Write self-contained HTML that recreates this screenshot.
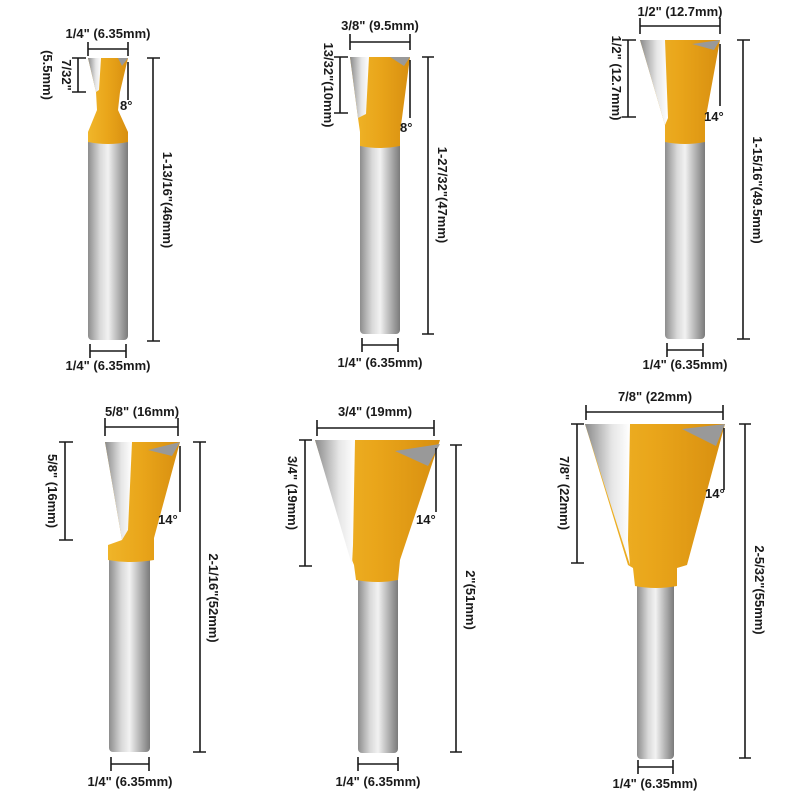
<!DOCTYPE html>
<html><head><style>
html,body{margin:0;padding:0;background:#fff;}
svg{display:block}
text{font-family:"Liberation Sans",sans-serif;font-size:13px;fill:#1a1a1a;font-weight:bold}
.d{stroke:#1a1a1a;stroke-width:1.6;fill:none}
</style></head><body>
<svg width="800" height="800" viewBox="0 0 800 800" xmlns="http://www.w3.org/2000/svg">
<defs>
<linearGradient id="sh" x1="0" x2="1" y1="0" y2="0">
<stop offset="0" stop-color="#8d8d8d"/><stop offset="0.3" stop-color="#d8d8d8"/><stop offset="0.5" stop-color="#f2f2f2"/><stop offset="0.75" stop-color="#b5b5b5"/><stop offset="1" stop-color="#7a7a7a"/>
</linearGradient>
<linearGradient id="y" x1="0" x2="1" y1="0" y2="0">
<stop offset="0" stop-color="#f0b62a"/><stop offset="0.5" stop-color="#e9a51a"/><stop offset="1" stop-color="#d88f10"/>
</linearGradient>
<linearGradient id="g" x1="0" x2="1" y1="0" y2="0">
<stop offset="0" stop-color="#8a8a8a"/><stop offset="0.6" stop-color="#e6e6e6"/><stop offset="1" stop-color="#ffffff"/>
</linearGradient>
</defs>

<!-- Bit 1 -->
<rect x="88" y="138" width="40" height="202" rx="4" fill="url(#sh)"/>
<path d="M88,58 L128,58 L120,92 L118,110 L128,132 L128,142 Q108,146 88,142 L88,132 L97,110 L96,92 Z" fill="url(#y)"/>
<path d="M88,58 L101,58 L99,90 L96,92 Z" fill="url(#g)"/>
<path d="M118,58 L128,58 L122,66 Z" fill="#999"/>
<path class="d" d="M88,42 V56 M128,42 V56 M88,49 H128"/>
<text x="108" y="38" text-anchor="middle">1/4" (6.35mm)</text>
<path class="d" d="M72,58 H86 M72,92 H86 M78,58 V92"/>
<text transform="translate(62,75) rotate(90)" text-anchor="middle">7/32"</text>
<text transform="translate(43,75) rotate(90)" text-anchor="middle">(5.5mm)</text>
<path class="d" d="M128,62 V100 M147,58 H160 M147,341 H160 M153,58 V341"/>
<text x="120" y="110">8°</text>
<text transform="translate(163,200) rotate(90)" text-anchor="middle">1-13/16"(46mm)</text>
<path class="d" d="M90,344 V358 M126,344 V358 M90,351 H126"/>
<text x="108" y="370" text-anchor="middle">1/4" (6.35mm)</text>

<!-- Bit 2 -->
<rect x="360" y="140" width="40" height="194" rx="4" fill="url(#sh)"/>
<path d="M350,57 L410,57 L402,118 L400,132 L400,146 Q380,150 360,146 L360,132 L358,118 Z" fill="url(#y)"/>
<path d="M350,57 L369,57 L366,114 L358,118 Z" fill="url(#g)"/>
<path d="M390,57 L410,57 L404,66 Z" fill="#999"/>
<path class="d" d="M350,34 V50 M410,34 V50 M350,42 H410"/>
<text x="380" y="30" text-anchor="middle">3/8" (9.5mm)</text>
<path class="d" d="M334,57 H348 M334,113 H348 M340,57 V113"/>
<text transform="translate(324,85) rotate(90)" text-anchor="middle">13/32"(10mm)</text>
<path class="d" d="M410,60 V118 M422,57 H434 M422,334 H434 M428,57 V334"/>
<text x="400" y="132">8°</text>
<text transform="translate(438,195) rotate(90)" text-anchor="middle">1-27/32"(47mm)</text>
<path class="d" d="M362,338 V352 M398,338 V352 M362,345 H398"/>
<text x="380" y="367" text-anchor="middle">1/4" (6.35mm)</text>

<!-- Bit 3 -->
<rect x="665" y="135" width="40" height="204" rx="4" fill="url(#sh)"/>
<path d="M640,40 L720,40 L705,122 L705,142 Q685,146 665,142 L665,125 Z" fill="url(#y)"/>
<path d="M640,40 L665,40 L668,118 L665,125 Z" fill="url(#g)"/>
<path d="M692,44 L720,40 L714,50 Z" fill="#999"/>
<path class="d" d="M640,18 V34 M720,18 V34 M640,26 H720"/>
<text x="680" y="16" text-anchor="middle">1/2" (12.7mm)</text>
<path class="d" d="M622,40 H636 M622,117 H636 M628,40 V117"/>
<text transform="translate(612,78) rotate(90)" text-anchor="middle">1/2" (12.7mm)</text>
<path class="d" d="M720,44 V106 M737,40 H750 M737,339 H750 M743,40 V339"/>
<text x="704" y="121">14°</text>
<text transform="translate(753,190) rotate(90)" text-anchor="middle">1-15/16"(49.5mm)</text>
<path class="d" d="M667,343 V357 M703,343 V357 M667,350 H703"/>
<text x="685" y="369" text-anchor="middle">1/4" (6.35mm)</text>

<!-- Bit 4 -->
<rect x="109" y="555" width="41" height="197" rx="4" fill="url(#sh)"/>
<path d="M105,442 L180,442 L154,538 L154,560 Q130,564 108,560 L108,545 L122,540 Z" fill="url(#y)"/>
<path d="M105,442 L132,442 L128,530 L122,540 Z" fill="url(#g)"/>
<path d="M148,450 L180,442 L172,456 Z" fill="#999"/>
<path class="d" d="M105,418 V436 M178,418 V436 M105,427 H178"/>
<text x="142" y="416" text-anchor="middle">5/8" (16mm)</text>
<path class="d" d="M59,442 H73 M59,540 H73 M65,442 V540"/>
<text transform="translate(48,491) rotate(90)" text-anchor="middle">5/8" (16mm)</text>
<path class="d" d="M180,446 V512 M193,442 H206 M193,752 H206 M200,442 V752"/>
<text x="158" y="524">14°</text>
<text transform="translate(209,598) rotate(90)" text-anchor="middle">2-1/16"(52mm)</text>
<path class="d" d="M111,757 V771 M149,757 V771 M111,764 H149"/>
<text x="130" y="786" text-anchor="middle">1/4" (6.35mm)</text>

<!-- Bit 5 -->
<rect x="358" y="575" width="40" height="178" rx="4" fill="url(#sh)"/>
<path d="M315,440 L440,440 L400,560 L398,580 Q378,584 356,580 L354,565 L352,560 Z" fill="url(#y)"/>
<path d="M315,440 L355,440 L353,545 L352,565 Z" fill="url(#g)"/>
<path d="M395,451 L440,444 L428,466 Z" fill="#999"/>
<path class="d" d="M317,420 V436 M434,420 V436 M317,428 H434"/>
<text x="375" y="416" text-anchor="middle">3/4" (19mm)</text>
<path class="d" d="M299,440 H312 M299,566 H312 M305,440 V566"/>
<text transform="translate(288,493) rotate(90)" text-anchor="middle">3/4" (19mm)</text>
<path class="d" d="M436,448 V512 M450,445 H462 M450,752 H462 M456,445 V752"/>
<text x="416" y="524">14°</text>
<text transform="translate(466,600) rotate(90)" text-anchor="middle">2"(51mm)</text>
<path class="d" d="M358,757 V771 M398,757 V771 M358,764 H398"/>
<text x="378" y="786" text-anchor="middle">1/4" (6.35mm)</text>

<!-- Bit 6 -->
<rect x="637" y="582" width="37" height="177" rx="4" fill="url(#sh)"/>
<path d="M585,424 L725,424 L687,565 L677,568 L677,586 Q656,590 635,586 L633,568 L628,565 Z" fill="url(#y)"/>
<path d="M585,424 L630,424 L628,540 L630,565 Z" fill="url(#g)"/>
<path d="M682,429 L725,424 L716,446 Z" fill="#999"/>
<path class="d" d="M586,405 V420 M723,405 V420 M586,412 H723"/>
<text x="655" y="401" text-anchor="middle">7/8" (22mm)</text>
<path class="d" d="M571,424 H584 M571,563 H584 M577,424 V563"/>
<text transform="translate(560,493) rotate(90)" text-anchor="middle">7/8" (22mm)</text>
<path class="d" d="M724,428 V490 M739,424 H751 M739,758 H751 M745,424 V758"/>
<text x="705" y="498">14°</text>
<text transform="translate(755,590) rotate(90)" text-anchor="middle">2-5/32"(55mm)</text>
<path class="d" d="M638,760 V774 M673,760 V774 M638,767 H673"/>
<text x="655" y="788" text-anchor="middle">1/4" (6.35mm)</text>
</svg>
</body></html>
